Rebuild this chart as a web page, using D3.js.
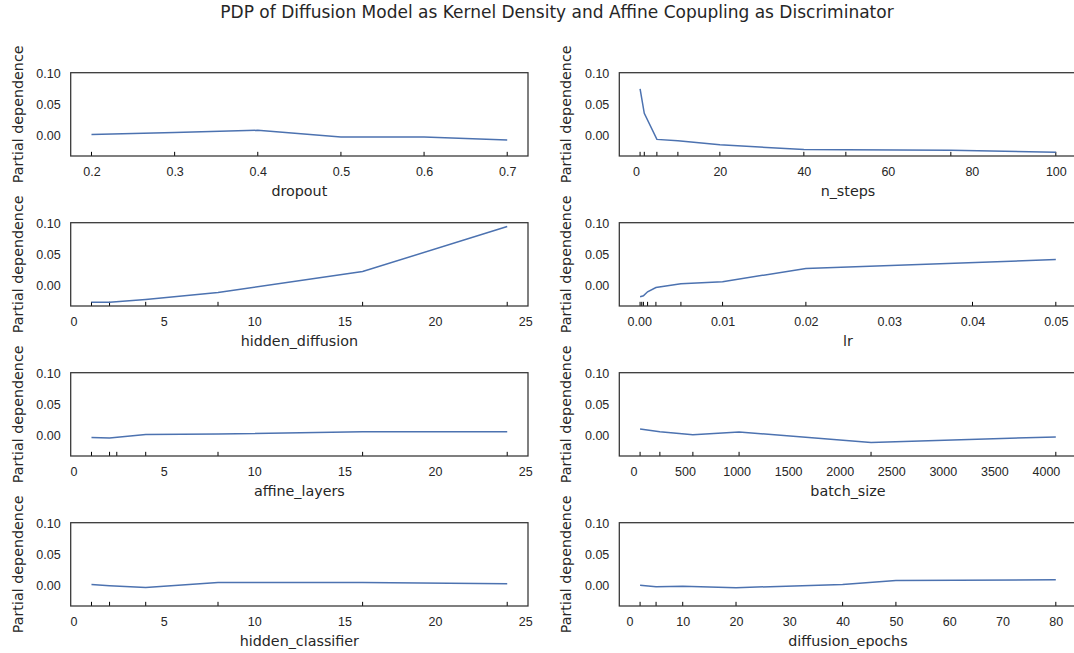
<!DOCTYPE html>
<html>
<head>
<meta charset="utf-8">
<script src="https://cdn.jsdelivr.net/npm/d3@7"></script>
<style>
  body { margin: 0; background: #fff; }
  svg { font-family: "DejaVu Sans", sans-serif; }
</style>
</head>
<body>
<svg width="1074" height="653"></svg>
<script>
// values
const dropoutX = [0.2, 0.3, 0.4, 0.5, 0.6, 0.7];
const dropoutY = [0.001, 0.004, 0.0077, -0.003, -0.003, -0.008];
const dropoutRug = [0.2, 0.3, 0.4, 0.5, 0.6, 0.7];

const nStepsX = [1, 2, 5, 10, 20, 40, 50, 75, 100];
const nStepsY = [0.0754, 0.0355, -0.0071, -0.0095, -0.016, -0.0235, -0.024, -0.025, -0.028];
const nStepsRug = [1, 2, 5, 10, 20, 40, 50, 75, 100];

const hiddenDiffX = [1, 2, 4, 8, 16, 24];
const hiddenDiffY = [-0.028, -0.028, -0.0235, -0.012, 0.022, 0.0955];
const hiddenDiffRug = [1, 2, 4, 8, 16, 24];

const lrX = [0.0001, 0.0005, 0.001, 0.002, 0.005, 0.01, 0.02, 0.05];
const lrY = [-0.019, -0.0175, -0.011, -0.004, 0.002, 0.0055, 0.027, 0.0415];
const lrRug = [0.0001, 0.0003, 0.0005, 0.001, 0.002, 0.005, 0.01, 0.02, 0.04, 0.05];

const affineX = [1, 2, 4, 8, 16, 24];
const affineY = [-0.004, -0.005, 0.001, 0.0016, 0.0055, 0.0055];
const affineRug = [1, 2, 2.4, 4, 8, 16, 24];

const batchX = [64, 256, 576, 1024, 2304, 4096];
const batchY = [0.0098, 0.0055, 0.0005, 0.005, -0.012, -0.003];
const batchRug = [64, 256, 576, 1024, 2304, 4096];

const hiddenClsX = [1, 2, 4, 8, 16, 24];
const hiddenClsY = [0.001, -0.001, -0.004, 0.004, 0.004, 0.002];
const hiddenClsRug = [1, 2, 4, 8, 16, 24];

const epochsX = [2, 5, 10, 20, 40, 50, 80];
const epochsY = [-0.0005, -0.0027, -0.002, -0.0043, 0.001, 0.0076, 0.0086];
const epochsRug = [2, 5, 10, 20, 40, 50, 80];

const yTicks = [0.00, 0.05, 0.10];
const hiddenTicks = [0, 5, 10, 15, 20, 25];

const panels = [
  {name: "dropout", x: dropoutX, y: dropoutY, rug: dropoutRug, ticks: [0.2, 0.3, 0.4, 0.5, 0.6, 0.7], fmt: ".1f"},
  {name: "n_steps", x: nStepsX, y: nStepsY, rug: nStepsRug, ticks: [0, 20, 40, 60, 80, 100], fmt: "d"},
  {name: "hidden_diffusion", x: hiddenDiffX, y: hiddenDiffY, rug: hiddenDiffRug, ticks: hiddenTicks, fmt: "d"},
  {name: "lr", x: lrX, y: lrY, rug: lrRug, ticks: [0, 0.01, 0.02, 0.03, 0.04, 0.05], fmt: ".2f"},
  {name: "affine_layers", x: affineX, y: affineY, rug: affineRug, ticks: hiddenTicks, fmt: "d"},
  {name: "batch_size", x: batchX, y: batchY, rug: batchRug, ticks: [0, 500, 1000, 1500, 2000, 2500, 3000, 3500, 4000], fmt: "d"},
  {name: "hidden_classifier", x: hiddenClsX, y: hiddenClsY, rug: hiddenClsRug, ticks: hiddenTicks, fmt: "d"},
  {name: "diffusion_epochs", x: epochsX, y: epochsY, rug: epochsRug, ticks: [0, 10, 20, 30, 40, 50, 60, 70, 80], fmt: "d"}
];

const svg = d3.select("svg");
const textColor = "#262626";
const lineColor = "#4c72b0";

// layout of the grid
const colLeft = [70.7, 619.3];
const rowTop = [72.7, 222.7, 372.7, 522.7];
const axW = 457.3, axH = 83.3;

svg.append("text")
  .attr("x", 557).attr("y", 18)
  .attr("text-anchor", "middle")
  .style("font-size", "17px")
  .style("fill", textColor)
  .text("PDP of Diffusion Model as Kernel Density and Affine Copupling as Discriminator");

// shared y scale (matplotlib style 5% margin)
const allY = panels.flatMap(p => p.y);
const [yMin, yMax] = d3.extent(allY);
const yPad = (yMax - yMin) * 0.05;

function pad(ext) {
  const m = (ext[1] - ext[0]) * 0.05;
  return [ext[0] - m, ext[1] + m];
}

panels.forEach((p, i) => {
  const col = i % 2, row = Math.floor(i / 2);
  const g = svg.append("g")
    .attr("transform", `translate(${colLeft[col]},${rowTop[row]})`);

  const scX = d3.scaleLinear().domain(pad(d3.extent(p.x))).range([0, axW]);
  const scY = d3.scaleLinear().domain([yMin - yPad, yMax + yPad]).range([axH, 0]);

  // axes without tick marks
  const ax = g.append("g")
    .attr("transform", `translate(0,${axH})`)
    .call(d3.axisBottom(scX).tickValues(p.ticks).tickFormat(d3.format(p.fmt)).tickSize(0).tickPadding(11));
  const ay = g.append("g")
    .call(d3.axisLeft(scY).tickValues(yTicks).tickFormat(d3.format(".2f")).tickSize(0).tickPadding(10));
  [ax, ay].forEach(a => {
    a.select(".domain").remove();
    a.selectAll("text").style("font-size", "12.5px").style("fill", textColor);
  });

  // deciles rug
  g.selectAll(".rug")
    .data(p.rug)
    .enter()
    .append("line")
    .attr("x1", d => scX(d)).attr("x2", d => scX(d))
    .attr("y1", axH).attr("y2", axH - axH * 0.05)
    .attr("stroke", "#000")
    .attr("stroke-width", 1);

  const line = d3.line().x(d => scX(d[0])).y(d => scY(d[1]));
  g.append("path")
    .datum(p.x.map((v, k) => [v, p.y[k]]))
    .attr("d", line)
    .attr("fill", "none")
    .attr("stroke", lineColor)
    .attr("stroke-width", 1.5);

  // frame
  g.append("rect")
    .attr("width", axW).attr("height", axH)
    .attr("fill", "none")
    .attr("stroke", "#333")
    .attr("stroke-width", 1.25);

  g.append("text")
    .attr("x", axW / 2).attr("y", axH + 40)
    .attr("text-anchor", "middle")
    .style("font-size", "14.3px")
    .style("fill", textColor)
    .text(p.name);

  g.append("text")
    .attr("transform", `translate(${-48},${axH / 2}) rotate(-90)`)
    .attr("text-anchor", "middle")
    .style("font-size", "14.3px")
    .style("fill", textColor)
    .text("Partial dependence");
});
</script>
</body>
</html>
